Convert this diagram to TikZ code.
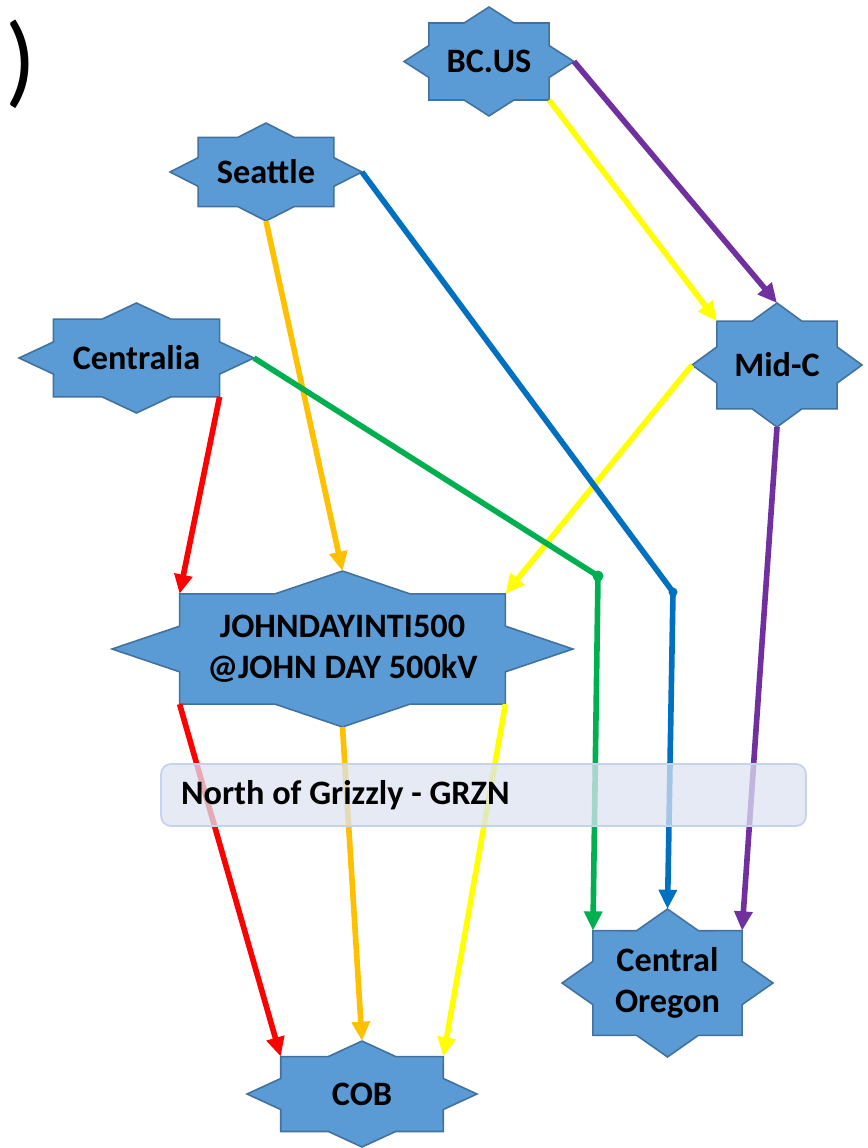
\documentclass[tikz,border=0pt]{standalone}
\usepackage{fontspec}
\setmainfont{Carlito}
\usetikzlibrary{shapes.geometric,arrows.meta}
\definecolor{hubfill}{HTML}{5B9BD5}
\definecolor{hubline}{HTML}{41719C}
\definecolor{cred}{HTML}{FF0000}
\definecolor{corange}{HTML}{FFC000}
\definecolor{cyellow}{HTML}{FFFF00}
\definecolor{cgreen}{HTML}{00B050}
\definecolor{cblue}{HTML}{0070C0}
\definecolor{cpurple}{HTML}{7030A0}
\definecolor{boxfill}{HTML}{DCE3F2}
\definecolor{boxline}{HTML}{C5D3EC}
\begin{document}
\begin{tikzpicture}[x=0.02cm,y=-0.02cm]
		\tikzset{hub/.style 2 args={star, star points=8, star point ratio=1.307, draw=hubline, fill=hubfill, line width=0.9pt, inner sep=0pt, outer sep=0pt, minimum size=#2*0.04cm, xscale=#1/#2, transform shape},
			txt/.style={font=\bfseries\fontsize{19.5}{23.5}\selectfont, align=center, inner sep=0pt},
			link/.style={line width=3.2pt, -{Triangle[length=11pt,width=10pt]}}}
		\useasboundingbox (0,0) rectangle (867,1148);
		\node[font=\fontsize{58}{66}\selectfont] (paren) at (21,64) {)};
		% stations
		\node[hub={85}{54.5}] (bc) at (489,61.5) {};
		\node[hub={96}{49}] (sea) at (266,172) {};
		\node[hub={117.5}{55}] (cen) at (136.5,358) {};
		\node[hub={85}{62}] (midc) at (777,365) {};
		\node[hub={230.5}{78}] (jd) at (342.5,649) {};
		\node[hub={105.5}{74}] (co) at (667.5,983) {};
		\node[hub={115}{53}] (cob) at (362,1094) {};
		\node[txt] (bct) at (bc) {BC.US};
		\node[txt] (seat) at (sea) {Seattle};
		\node[txt] (cent) at (cen) {Centralia};
		\node[txt] (midct) at (midc) {Mid-C};
		\node[txt] (jdt) at (jd) {JOHNDAYINTI500\\@JOHN DAY 500kV};
		\node[txt] (cot) at (co) {Central\\Oregon};
		\node[txt] (cobt) at (cob) {COB};
		\coordinate (gbend) at (598,576);
		\coordinate (bbend) at (673,592);
		% paths
		\draw[link,cpurple] (bc.outer point 7) -- (midc.outer point 1);
		\draw[link,cyellow] (bc.outer point 6) -- (midc.outer point 2);
		\draw[link,cyellow] (midc.outer point 3) -- (jd.outer point 8);
		\draw[link,cpurple] (midc.outer point 5) -- (co.outer point 8);
		\draw[link,corange] (sea.outer point 5) -- (jd.outer point 1);
		\draw[link,cblue] (sea.outer point 7) -- (bbend) -- (co.outer point 1);
		\draw[link,cgreen] (cen.outer point 7) -- (gbend) -- (co.outer point 2);
		\draw[link,cred] (cen.outer point 6) -- (jd.outer point 2);
		\draw[link,cred] (jd.outer point 4) -- (cob.outer point 2);
		\draw[link,corange] (jd.outer point 5) -- (cob.outer point 1);
		\draw[link,cyellow] (jd.outer point 6) -- (cob.outer point 8);
		\fill[cgreen] (gbend) circle (0.11cm);
		\fill[cblue] (bbend) circle (0.09cm);
		% flowgate
		\node[draw=boxline, line width=1pt, fill=boxfill, fill opacity=0.75, text opacity=1, rounded corners=0.2cm, minimum width=12.9cm, minimum height=1.24cm, text width=12.1cm, inner xsep=0.4cm, align=flush left, font=\bfseries\fontsize{19.5}{23.5}\selectfont] (grzn) at (483.5,795) {North of Grizzly - GRZN};
	\end{tikzpicture}
\end{document}
